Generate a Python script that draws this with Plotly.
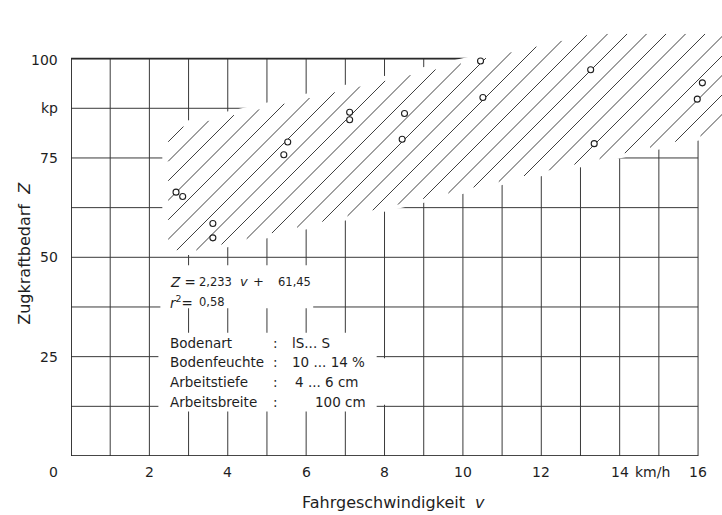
import plotly.graph_objects as go

# ---- data ----
speed = [2.68, 2.85, 3.62, 3.62, 5.43, 5.53, 7.11, 7.11, 8.51, 8.45,
         10.45, 10.51, 13.26, 13.35, 16.11, 15.98]          # km/h
force = [66.4, 65.3, 58.5, 54.9, 75.8, 79.0, 86.5, 84.6, 86.2, 79.7,
         99.4, 90.2, 97.2, 78.6, 93.9, 89.8]                # kp

slope = 2.233
intercept = 61.45

grid_v = list(range(0, 17))
grid_z = [0, 12.5, 25, 37.5, 50, 62.5, 75, 87.5, 100]

x_ticks = [2, 4, 6, 8, 10, 12, 14, 16]
y_ticks = [100, 87.5, 75, 50, 25]
y_ticklabels = ["100", "kp", "75", "50", "25"]

info_labels = ["Bodenart", "Bodenfeuchte", "Arbeitstiefe", "Arbeitsbreite"]
info_values = ["lS... S", "10 ... 14 %", "4 ... 6 cm", "100 cm"]

# ---- geometry ----
X_MAX = 16.611
Y_MAX = 114.75
SX = 651 / X_MAX     # px per km/h
SY = 456 / Y_MAX     # px per kp
FONT = "DejaVu Sans"
TXT = "#1e1e1e"

fig = go.Figure()

def add_line(xs, ys, width=1.0, color="#3a3a3a"):
    fig.add_trace(go.Scatter(x=xs, y=ys, mode="lines",
                             line=dict(color=color, width=width),
                             hoverinfo="skip", showlegend=False))

def white_poly(xs, ys):
    fig.add_trace(go.Scatter(x=xs + [xs[0]], y=ys + [ys[0]], mode="lines",
                             fill="toself", fillcolor="white",
                             line=dict(width=0, color="white"),
                             hoverinfo="skip", showlegend=False))

# grid
gx, gy = [], []
for v in grid_v:
    gx += [v, v, None]
    gy += [0, 100, None]
for z in grid_z:
    gx += [0, 16, None]
    gy += [z, z, None]
add_line(gx, gy, 1.0, "#3a3a3a")
add_line([16, 0, 0, 16], [0, 0, 100, 100], 1.7, "#2a2a2a")

# white mask around the scatter band (grid interrupted)
c_lo_mask = intercept - 17.85
c_hi_mask = intercept + 16.35
v_left_mask = 2.33
z_floor_mask = 50.6
white_poly([v_left_mask, (z_floor_mask - c_lo_mask) / slope, X_MAX, X_MAX, v_left_mask],
           [z_floor_mask, z_floor_mask, slope * X_MAX + c_lo_mask,
            slope * X_MAX + c_hi_mask, slope * v_left_mask + c_hi_mask])

# white masks behind the text block
white_poly([2.28, 6.18, 6.18, 2.28], [37.2, 37.2, 48.0, 48.0])
white_poly([2.23, 7.8, 7.8, 2.23], [11.2, 11.2, 31.0, 31.0])
white_poly([7.8, 8.3, 8.3, 7.8], [12.9, 12.9, 24.6, 24.6])

# hatched band outline (convex) around the regression line
c_lo = intercept - 16.8
c_hi = intercept + 15.05
v_left = 2.48
z_floor = 51.8
z_top = 106.2
hx = [v_left, (z_floor - c_lo) / slope, X_MAX, X_MAX, (z_top - c_hi) / slope, v_left]
hy = [z_floor, z_floor, slope * X_MAX + c_lo, z_top, z_top, slope * v_left + c_hi]

# 45-degree hatch lines (in screen space), clipped to the band
P = [(x * SX, y * SY) for x, y in zip(hx, hy)]
ks = [py - px for px, py in P]
k = 217.0
while k - 19.5 > min(ks):
    k -= 19.5
hatch_x, hatch_y = [], []
while k < max(ks):
    xs_hit = []
    for i in range(len(P)):
        ax, ay = P[i]
        bx, by = P[(i + 1) % len(P)]
        dx, dy = bx - ax, by - ay
        den = dy - dx
        if abs(den) < 1e-9:
            continue
        s = (k - ay + ax) / den
        if -1e-9 <= s <= 1 + 1e-9:
            xs_hit.append(ax + s * dx)
    if len(xs_hit) >= 2:
        x0, x1 = min(xs_hit), max(xs_hit)
        if x1 - x0 > 2:
            hatch_x += [x0 / SX, x1 / SX, None]
            hatch_y += [(x0 + k) / SY, (x1 + k) / SY, None]
    k += 19.5
add_line(hatch_x, hatch_y, 0.9, "#2a2a2a")

# measured points
fig.add_trace(go.Scatter(x=speed, y=force, mode="markers",
                         marker=dict(symbol="circle", size=6, color="white",
                                     line=dict(color="#1e1e1e", width=1.1)),
                         cliponaxis=False, hoverinfo="skip", showlegend=False))

ann = []
def text(x, y, s, size=14, xanchor="center", yanchor="middle", xref="x", yref="y",
         xshift=0, yshift=0, angle=0, family=FONT):
    ann.append(dict(x=x, y=y, xref=xref, yref=yref, text=s, showarrow=False,
                    xanchor=xanchor, yanchor=yanchor, xshift=xshift, yshift=yshift,
                    textangle=angle, font=dict(family=family, size=size, color=TXT)))

# x tick labels
for t in x_ticks:
    text(t, 0, str(t), yshift=-16)
text(14.85, 0, "km/h", yshift=-16)
text(0, 0, "0", xanchor="right", xshift=-11, yshift=-16)
# y tick labels
for t, lab in zip(y_ticks, y_ticklabels):
    text(0, t, lab, xanchor="right", xshift=-11, yshift=-1 if t == 100 else 0)

# axis titles
text(8.23, 0, "Fahrgeschwindigkeit  <i>v</i>", size=16, yshift=-46)
text(-46 / 651, 50.9, "Zugkraftbedarf  <i>Z</i>", size=16, xref="paper", angle=-90)

# regression text (positions in km/h along the axis)
row_z, row_r = 43.8, 38.8
text(2.48, row_z, "<i>Z</i> =", size=13.5, xanchor="left")
text(3.22, row_z, "2,233", size=11.5, xanchor="left")
text(4.42, row_z, "<i>v</i>", size=13)
text(4.78, row_z, "+", size=13)
text(5.22, row_z, "61,45", size=11.5, xanchor="left")
text(2.48, row_r, "<i>r</i><sup>2</sup>=", size=13.5, xanchor="left")
text(3.22, row_r, "0,58", size=11.5, xanchor="left")

# soil info block
info_rows = [28.4, 23.7, 18.7, 13.7]
info_value_x = [5.59, 5.59, 5.66, 6.18]
for lab, val, zr, vx in zip(info_labels, info_values, info_rows, info_value_x):
    text(2.48, zr, lab, size=13.5, xanchor="left")
    text(5.23, zr, ":", size=13.5)
    text(vx, zr, val, size=13.5, xanchor="left")

fig.update_layout(
    width=722, height=515,
    margin=dict(l=71, r=0, t=0, b=59, autoexpand=False),
    plot_bgcolor="white", paper_bgcolor="white",
    xaxis=dict(range=[0, X_MAX], showgrid=False, zeroline=False, showline=False,
               showticklabels=False, ticks=""),
    yaxis=dict(range=[0, Y_MAX], showgrid=False, zeroline=False, showline=False,
               showticklabels=False, ticks=""),
    annotations=ann,
)

fig.write_html("out.html", config={"displayModeBar": False},
               post_script="document.body.style.margin='0px';document.body.style.overflow='hidden';")
